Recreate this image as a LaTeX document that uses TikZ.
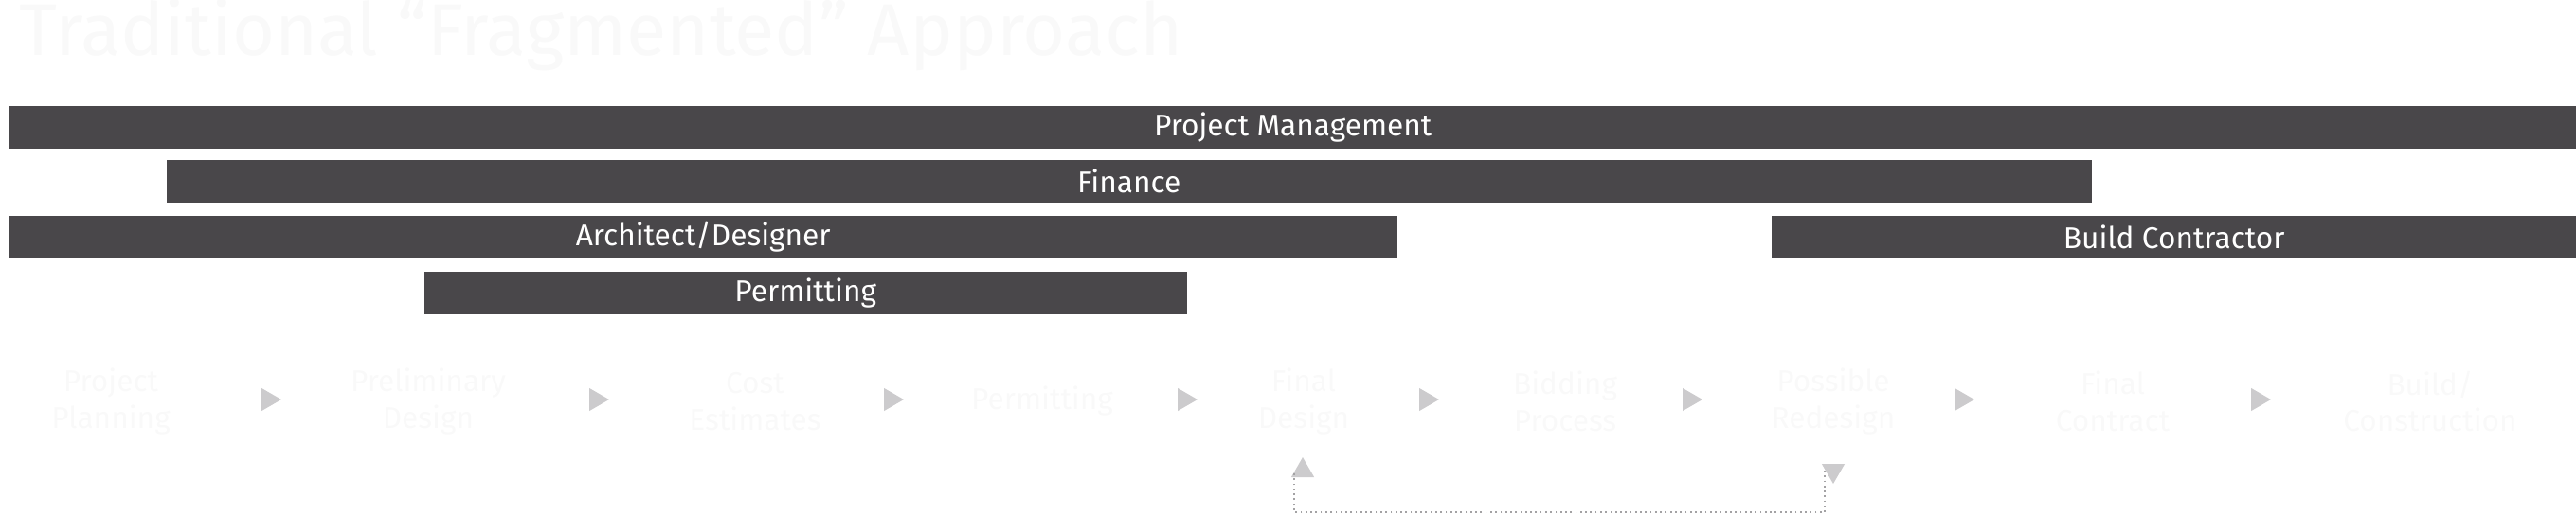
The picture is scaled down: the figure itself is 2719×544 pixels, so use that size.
\documentclass[tikz,border=0pt]{standalone}
\usepackage{fontspec}
\setmainfont{Fira Sans}
\usetikzlibrary{shapes.geometric,calc}
\definecolor{bardark}{HTML}{49474A}
\definecolor{tipgray}{HTML}{CCCBCD}
\definecolor{ghost}{HTML}{F9F9F9}

\begin{document}
\begin{tikzpicture}[x=0.1mm,y=-0.1mm,
	bar/.style={fill=bardark,text=white,anchor=north west,minimum height=4.5mm,inner sep=0pt,font=\fontsize{9}{10}\selectfont},
	stage/.style={text=ghost,align=center,font=\fontsize{9}{11}\selectfont},
	tip/.style={isosceles triangle,fill=tipgray,inner sep=0pt,minimum height=2.1mm,minimum width=2.4mm,isosceles triangle apex angle=60}]
	\useasboundingbox (0,0) rectangle (2719,544);
	\node[text=ghost,anchor=base west,font=\fontsize{22}{24}\selectfont] (title) at (8,58) {Traditional “Fragmented” Approach};
	% role bars
	\node[bar,minimum width=271mm] (pm) at (9,111) {Project Management};
	\node[bar,minimum width=203.2mm] (fin) at (175,168) {Finance};
	\node[bar,minimum width=146.5mm] (arch) at (9,227) {Architect/Designer};
	\node[bar,minimum width=85mm] (build) at (1869,227) {Build Contractor};
	\node[bar,minimum width=80.5mm] (perm) at (447,286) {Permitting};
	% stages
	\foreach \T/\X [count=\N] in {{Project\\Planning}/117, {Preliminary\\Design}/452, {Cost\\Estimates}/797,
		{Permitting}/1100, {Final\\Design}/1376, {Bidding\\Process}/1652, {Possible\\Redesign}/1935,
		{Final\\Contract}/2230, {Build/\\Construction}/2565}
		\node[stage] (s-\N) at (\X,424) {\T};
	\foreach \X [count=\N] in {283,629,940,1250,1505,1783,2070,2383}
		\node[tip] (a-\N) at (\X,422) {};
	% redesign loop
	\node[tip,shape border rotate=90] (up) at (1375,497) {};
	\node[tip,shape border rotate=-90] (down) at (1935,497) {};
	\draw[tipgray!80!black,densely dotted,line width=0.5pt] (down.west) |- (1655,541) -| (up.west);
\end{tikzpicture}
\end{document}
